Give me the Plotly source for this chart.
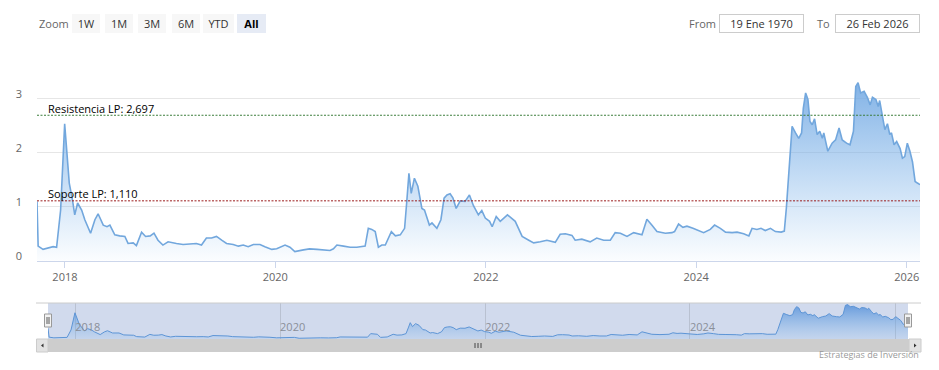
import plotly.graph_objects as go

# ---------------- data ----------------
dates = [
    "2017-09-26", "2017-09-30", "2017-10-17", "2017-11-21", "2017-12-03", "2017-12-17", "2017-12-31",
    "2018-01-16", "2018-01-27", "2018-02-04", "2018-02-14", "2018-02-28", "2018-03-11", "2018-03-31",
    "2018-04-15", "2018-04-26", "2018-05-14", "2018-05-27", "2018-06-06", "2018-06-23", "2018-07-10",
    "2018-07-28", "2018-08-08", "2018-08-26", "2018-09-06", "2018-09-24", "2018-10-08", "2018-10-24",
    "2018-11-06", "2018-11-20", "2018-12-07", "2018-12-25", "2019-01-23", "2019-02-15", "2019-03-10",
    "2019-04-02", "2019-04-20", "2019-05-07", "2019-05-25", "2019-06-11", "2019-06-29", "2019-07-16",
    "2019-08-08", "2019-08-26", "2019-09-12", "2019-09-29", "2019-10-17", "2019-11-09", "2019-11-26",
    "2019-12-20", "2020-01-06", "2020-02-04", "2020-02-21", "2020-03-09", "2020-04-08", "2020-04-29",
    "2020-05-25", "2020-06-22", "2020-07-09", "2020-07-21", "2020-08-02", "2020-08-25", "2020-09-17",
    "2020-10-10", "2020-11-08", "2020-11-19", "2020-12-01", "2020-12-13", "2020-12-24", "2021-01-05",
    "2021-01-17", "2021-02-07", "2021-02-21", "2021-03-10", "2021-03-25", "2021-04-02", "2021-04-09",
    "2021-04-17", "2021-04-28", "2021-05-10", "2021-05-24", "2021-06-02", "2021-06-19", "2021-06-28",
    "2021-07-15", "2021-07-29", "2021-08-09", "2021-08-19", "2021-08-30", "2021-09-09", "2021-09-20",
    "2021-10-04", "2021-10-21", "2021-11-05", "2021-11-19", "2021-12-06", "2021-12-18", "2021-12-30",
    "2022-01-14", "2022-01-23", "2022-02-06", "2022-02-20", "2022-03-17", "2022-04-13", "2022-05-07",
    "2022-05-30", "2022-06-16", "2022-07-09", "2022-08-01", "2022-08-30", "2022-09-16", "2022-10-04",
    "2022-10-27", "2022-11-07", "2022-11-30", "2022-12-29", "2023-01-21", "2023-02-14", "2023-03-09",
    "2023-03-26", "2023-04-13", "2023-05-06", "2023-05-29", "2023-06-27", "2023-07-14", "2023-07-31",
    "2023-08-18", "2023-09-16", "2023-10-09", "2023-10-18", "2023-11-01", "2023-11-16", "2023-11-30",
    "2023-12-21", "2024-01-10", "2024-01-27", "2024-02-19", "2024-03-05", "2024-03-25", "2024-04-12",
    "2024-05-05", "2024-05-22", "2024-06-14", "2024-07-02", "2024-07-13", "2024-07-30", "2024-08-13",
    "2024-08-28", "2024-09-15", "2024-10-02", "2024-10-22", "2024-11-02", "2024-11-09", "2024-11-17",
    "2024-11-29", "2024-12-11", "2024-12-22", "2025-01-01", "2025-01-07", "2025-01-15", "2025-01-23",
    "2025-01-30", "2025-02-07", "2025-02-15", "2025-02-24", "2025-03-05", "2025-03-14", "2025-03-19",
    "2025-04-02", "2025-04-17", "2025-04-29", "2025-05-11", "2025-05-22", "2025-06-06", "2025-06-18",
    "2025-06-30", "2025-07-08", "2025-07-16", "2025-07-25", "2025-08-06", "2025-08-18", "2025-08-27",
    "2025-09-04", "2025-09-16", "2025-09-24", "2025-09-29", "2025-10-09", "2025-10-17", "2025-10-26",
    "2025-11-03", "2025-11-09", "2025-11-18", "2025-11-27", "2025-12-09", "2025-12-17", "2025-12-25",
    "2026-01-03", "2026-01-12", "2026-01-21", "2026-01-30", "2026-02-07", "2026-02-16",
]
values = [
    1.10, 0.27, 0.21, 0.26, 0.25, 0.94, 2.54,
    1.44, 1.13, 0.85, 1.07, 0.94, 0.76, 0.51,
    0.76, 0.87, 0.66, 0.63, 0.66, 0.48, 0.46,
    0.45, 0.32, 0.33, 0.28, 0.53, 0.45, 0.46,
    0.51, 0.38, 0.29, 0.35, 0.32, 0.30, 0.31,
    0.32, 0.29, 0.42, 0.42, 0.45, 0.38, 0.32,
    0.30, 0.27, 0.29, 0.26, 0.30, 0.30, 0.26,
    0.21, 0.22, 0.29, 0.25, 0.17, 0.20, 0.22,
    0.21, 0.20, 0.19, 0.22, 0.29, 0.27, 0.25,
    0.25, 0.27, 0.60, 0.58, 0.54, 0.25, 0.29,
    0.29, 0.54, 0.46, 0.48, 0.60, 1.13, 1.62,
    1.25, 1.53, 1.38, 0.97, 0.94, 0.66, 0.70,
    0.60, 0.76, 1.16, 1.22, 1.24, 1.16, 0.97,
    1.11, 1.10, 1.22, 1.02, 0.85, 0.93, 0.79,
    0.73, 0.63, 0.82, 0.73, 0.85, 0.73, 0.45,
    0.38, 0.33, 0.35, 0.38, 0.34, 0.49, 0.50,
    0.47, 0.38, 0.40, 0.35, 0.42, 0.38, 0.38,
    0.52, 0.51, 0.45, 0.52, 0.48, 0.77, 0.66,
    0.54, 0.51, 0.52, 0.54, 0.68, 0.62, 0.64,
    0.60, 0.56, 0.52, 0.58, 0.66, 0.60, 0.53,
    0.52, 0.53, 0.50, 0.46, 0.60, 0.58, 0.60,
    0.56, 0.60, 0.54, 0.53, 0.55, 0.97, 1.59,
    2.49, 2.37, 2.27, 2.37, 2.83, 3.11, 2.99,
    2.58, 2.52, 2.63, 2.34, 2.40, 2.27, 2.37,
    2.03, 2.18, 2.24, 2.46, 2.24, 2.18, 2.15,
    2.40, 3.23, 3.30, 3.11, 3.14, 3.02, 2.89,
    3.03, 2.99, 2.86, 2.97, 2.65, 2.43, 2.54,
    2.34, 2.37, 2.15, 2.21, 2.08, 1.90, 1.93,
    2.18, 2.03, 1.83, 1.47, 1.44, 1.41,
]
resistencia = 2.697
soporte = 1.110
resistencia_label = "Resistencia LP: 2,697"
soporte_label = "Soporte LP: 1,110"

year_ticks = ["2018-01-01", "2020-01-01", "2022-01-01", "2024-01-01", "2026-01-01"]
year_labels = ["2018", "2020", "2022", "2024", "2026"]
y_ticks = [0, 1, 2, 3, 4]
y_labels = ["0", "1", "2", "3", ""]
zoom_buttons = ["1W", "1M", "3M", "6M", "YTD", "All"]
from_text = "19 Ene 1970"
to_text = "26 Feb 2026"
credits = "Estrategias de Inversión"

FONT = "Open Sans, DejaVu Sans, sans-serif"
# the page body has an 8px default margin on every side; size the figure so the
# page fits the window exactly (no overflow) and place things in window pixels
OFF = 8
WIN_W, WIN_H = 939, 370
W, H = WIN_W - 2 * OFF, WIN_H - 2 * OFF
# plot-area (paper) edges in window pixels, as measured on the reference
PL, PR, PT, PB = 37, 920, 45, 352
ML, MR, MT, MB = PL - OFF, (OFF + W) - PR, PT - OFF, (OFF + H) - PB
PW = W - ML - MR
PH = H - MT - MB


def px(xp):
    """window pixel x -> paper fraction"""
    return (xp - PL) / PW


def py(yp):
    """window pixel y -> paper fraction"""
    return (PB - yp) / PH


fig = go.Figure()

# main series
fig.add_trace(go.Scatter(
    x=dates, y=values, mode="lines",
    line=dict(color="#72a7dd", width=1.6),
    fill="tozeroy",
    fillgradient=dict(type="vertical", start=0, stop=3.6,
                      colorscale=[[0, "rgba(124,181,236,0.03)"], [1, "rgba(110,165,225,0.95)"]]),
    xaxis="x", yaxis="y", hoverinfo="x+y", showlegend=False,
))

# navigator series
fig.add_trace(go.Scatter(
    x=dates, y=values, mode="lines",
    line=dict(color="#5d95d6", width=1),
    fill="tozeroy",
    fillgradient=dict(type="vertical", start=0.1, stop=3.4,
                      colorscale=[[0, "rgba(124,181,236,0.15)"], [1, "rgba(80,140,215,0.85)"]]),
    xaxis="x2", yaxis="y2", hoverinfo="skip", showlegend=False,
))

nav_top = py(303)
nav_bot = py(339)

fig.update_layout(
    width=W, height=H,
    margin=dict(l=ML, r=MR, t=MT, b=MB, pad=0, autoexpand=False),
    paper_bgcolor="white", plot_bgcolor="white",
    font=dict(family=FONT, size=11, color="#666666"),
    showlegend=False,
    hovermode="x",
    xaxis=dict(
        domain=[0, 1], anchor="y", type="date", automargin=False,
        range=[dates[0], dates[-1]],
        tickmode="array", tickvals=year_ticks, ticktext=year_labels,
        showgrid=False, zeroline=False,
        ticks="outside", ticklen=6, tickcolor="#ccd6eb",
        showline=True, linecolor="#ccd6eb", linewidth=1,
        tickfont=dict(size=11, color="#666666"),
    ),
    yaxis=dict(
        domain=[py(260.7), 1], anchor="x", automargin=False,
        range=[0, 4], fixedrange=True,
        tickmode="array", tickvals=y_ticks, ticktext=y_labels,
        showgrid=True, gridcolor="#e6e6e6", gridwidth=1,
        zeroline=False, showline=False, ticks="",
        tickfont=dict(size=11, color="#666666"),
        ticklabelshift=-5, ticklabelstandoff=14,
    ),
    xaxis2=dict(
        domain=[px(48), px(908)], anchor="y2", type="date", automargin=False,
        range=[dates[0], dates[-1]],
        tickmode="array", tickvals=year_ticks, ticktext=year_labels,
        showgrid=True, gridcolor="#b9c1d1", gridwidth=1,
        zeroline=False, showline=False, ticks="",
        ticklabelposition="inside right",
        tickfont=dict(size=11, color="#8a8f99"),
        fixedrange=True,
    ),
    yaxis2=dict(
        domain=[nav_bot, nav_top], anchor="x2", automargin=False,
        range=[0.1, 3.45], visible=False, showgrid=False, fixedrange=True,
    ),
)

shapes = []
# navigator mask
shapes.append(dict(type="rect", xref="x2 domain", yref="y2 domain", x0=0, x1=1, y0=0, y1=1,
                   fillcolor="rgba(102,133,194,0.3)", line=dict(width=0), layer="below"))
# navigator outline (top)
shapes.append(dict(type="line", xref="paper", yref="paper", x0=px(36), x1=px(921), y0=nav_top, y1=nav_top,
                   line=dict(color="#cccccc", width=1)))
# scrollbar track / thumb
sb_top, sb_bot = py(339), py(352)
shapes.append(dict(type="rect", xref="paper", yref="paper", x0=px(36.5), x1=px(921), y0=sb_bot, y1=sb_top,
                   fillcolor="#f2f2f2", line=dict(width=0)))
shapes.append(dict(type="rect", xref="paper", yref="paper", x0=px(48), x1=px(909), y0=sb_bot, y1=sb_top,
                   fillcolor="#cdcdcd", line=dict(width=0)))
# scrollbar buttons
for x0, x1 in [(36.5, 48), (909, 921)]:
    shapes.append(dict(type="rect", xref="paper", yref="paper", x0=px(x0), x1=px(x1), y0=sb_bot, y1=sb_top,
                       fillcolor="#e2e2e2", line=dict(color="#cccccc", width=1)))
# scrollbar arrows
shapes.append(dict(type="path", xref="paper", yref="paper",
                   path=f"M {px(43.5)} {py(343.5)} L {px(41)} {py(345.5)} L {px(43.5)} {py(347.5)} Z",
                   fillcolor="#333333", line=dict(width=0)))
shapes.append(dict(type="path", xref="paper", yref="paper",
                   path=f"M {px(914)} {py(343.5)} L {px(916.5)} {py(345.5)} L {px(914)} {py(347.5)} Z",
                   fillcolor="#333333", line=dict(width=0)))
# scrollbar grip
for gx in [475, 478, 481]:
    shapes.append(dict(type="line", xref="paper", yref="paper", x0=px(gx), x1=px(gx),
                       y0=py(348), y1=py(343), line=dict(color="#444444", width=1)))
# navigator handles
for hx in [48, 908]:
    shapes.append(dict(type="rect", xref="paper", yref="paper", x0=px(hx - 3.5), x1=px(hx + 3.5),
                       y0=py(327), y1=py(314), fillcolor="#f2f2f2", line=dict(color="#999999", width=1)))
    for lx in [hx - 1, hx + 1]:
        shapes.append(dict(type="line", xref="paper", yref="paper", x0=px(lx), x1=px(lx),
                           y0=py(324), y1=py(317), line=dict(color="#333333", width=0.8)))
# resistance / support lines
shapes.append(dict(type="line", xref="x domain", yref="y", x0=0, x1=1, y0=resistencia, y1=resistencia,
                   line=dict(color="#3b7d3b", width=1, dash="2px,1.5px")))
shapes.append(dict(type="line", xref="x domain", yref="y", x0=0, x1=1, y0=soporte, y1=soporte,
                   line=dict(color="#9b1c1c", width=1, dash="2px,1.5px")))
fig.update_layout(shapes=shapes)

ann = []
ann.append(dict(xref="x domain", yref="y", x=px(46), y=resistencia, xanchor="left", yanchor="bottom",
                text=resistencia_label, showarrow=False, font=dict(size=11, color="#000000"), yshift=-2.5))
ann.append(dict(xref="x domain", yref="y", x=px(46), y=soporte, xanchor="left", yanchor="bottom",
                text=soporte_label, showarrow=False, font=dict(size=11, color="#000000"), yshift=-2.5))

# range selector look-alike
top_y = py(23.7)
ann.append(dict(xref="paper", yref="paper", x=px(36.5), y=top_y, xanchor="left", yanchor="middle",
                text="Zoom", showarrow=False, font=dict(size=11, color="#666666")))
btn_left = [71.7, 105, 138.3, 171.7, 202.7, 237.3]
btn_width = [28, 28, 28, 28, 31, 29]
for lbl, bl, bw in zip(zoom_buttons, btn_left, btn_width):
    active = lbl == "All"
    ann.append(dict(xref="paper", yref="paper", x=px(bl), y=top_y, xanchor="left", yanchor="middle",
                    text=f"<b>{lbl}</b>" if active else lbl, showarrow=False,
                    width=bw, height=19, borderpad=0, borderwidth=0, align="center",
                    bgcolor="#e6ebf5" if active else "#f7f7f7",
                    font=dict(size=11, color="#000000" if active else "#333333")))
ann.append(dict(xref="paper", yref="paper", x=px(686.7), y=top_y, xanchor="left", yanchor="middle",
                text="From", showarrow=False, font=dict(size=11, color="#666666")))
ann.append(dict(xref="paper", yref="paper", x=px(719.3), y=top_y, xanchor="left", yanchor="middle",
                text=from_text, showarrow=False, width=83, height=17, borderpad=0, borderwidth=1,
                bordercolor="#cccccc", bgcolor="white", align="center",
                font=dict(size=11, color="#333333")))
ann.append(dict(xref="paper", yref="paper", x=px(815), y=top_y, xanchor="left", yanchor="middle",
                text="To", showarrow=False, font=dict(size=11, color="#666666")))
ann.append(dict(xref="paper", yref="paper", x=px(835), y=top_y, xanchor="left", yanchor="middle",
                text=to_text, showarrow=False, width=83, height=17, borderpad=0, borderwidth=1,
                bordercolor="#cccccc", bgcolor="white", align="center",
                font=dict(size=11, color="#333333")))
ann.append(dict(xref="paper", yref="paper", x=px(920), y=py(362), xanchor="right", yanchor="bottom",
                text=credits, showarrow=False, borderpad=0, font=dict(size=9, color="#999999")))
fig.update_layout(annotations=ann)

fig.write_html("out.html")
